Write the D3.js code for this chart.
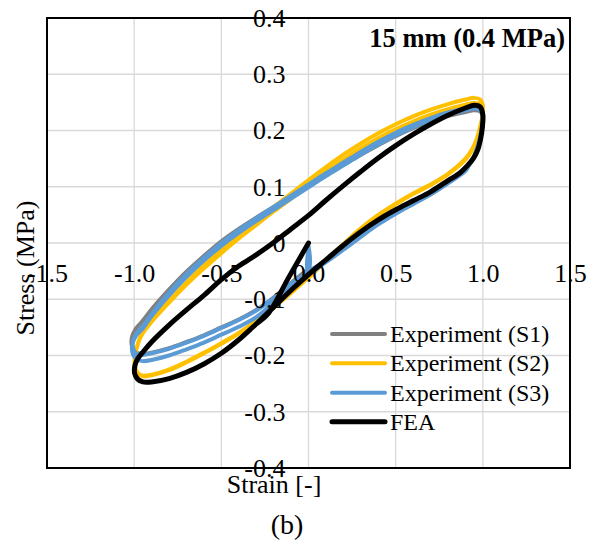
<!DOCTYPE html>
<html>
<head>
<meta charset="utf-8">
<script src="https://cdn.jsdelivr.net/npm/d3@7/dist/d3.min.js"></script>
<style>
  html, body { margin: 0; padding: 0; background: #fff; }
  svg { display: block; }
  text { font-family: "Liberation Serif", "Times New Roman", serif; fill: #000; }
</style>
</head>
<body>
<svg id="chart" width="595" height="550"></svg>
<script>
// Axis ticks
const xTicks = [-1.5, -1.0, -0.5, 0.0, 0.5, 1.0, 1.5];
const yTicks = [-0.4, -0.3, -0.2, -0.1, 0, 0.1, 0.2, 0.3, 0.4];

// Series names and colours
const seriesNames = ["Experiment (S1)", "Experiment (S2)", "Experiment (S3)", "FEA"];
const seriesColors = ["#808080", "#FFC000", "#5B9BD5", "#000000"];

// Hysteresis paths as [strain, stress (MPa)] pairs
const s1 = [
  [0, -0.046], [-0.1, -0.071], [-0.2, -0.097], [-0.3, -0.119], [-0.4, -0.136],
  [-0.5, -0.15], [-0.6, -0.164], [-0.7, -0.176], [-0.8, -0.187], [-0.9, -0.195],
  [-0.95, -0.197], [-0.99, -0.194], [-1.012, -0.184], [-1.013, -0.168], [-0.992, -0.153],
  [-0.95, -0.138], [-0.9, -0.118], [-0.8, -0.083], [-0.7, -0.051], [-0.6, -0.023],
  [-0.5, 0.003], [-0.4, 0.025], [-0.3, 0.045], [-0.2, 0.064], [-0.1, 0.083],
  [0, 0.102], [0.1, 0.121], [0.2, 0.139], [0.3, 0.157], [0.4, 0.174],
  [0.5, 0.19], [0.6, 0.204], [0.7, 0.216], [0.8, 0.226], [0.9, 0.233],
  [0.95, 0.236], [0.985, 0.234], [1.0, 0.224], [0.997, 0.207], [0.985, 0.188],
  [0.97, 0.17], [0.95, 0.153], [0.92, 0.138], [0.9, 0.129], [0.8, 0.107],
  [0.7, 0.087], [0.6, 0.07], [0.5, 0.053], [0.4, 0.034], [0.3, 0.012],
  [0.2, -0.011], [0.1, -0.033], [0, -0.051]
];

const s2 = [
  [0, -0.061], [-0.1, -0.088], [-0.2, -0.114], [-0.3, -0.139], [-0.4, -0.16],
  [-0.5, -0.178], [-0.6, -0.195], [-0.7, -0.211], [-0.8, -0.225], [-0.9, -0.234],
  [-0.95, -0.236], [-0.98, -0.231], [-0.997, -0.218], [-0.995, -0.2], [-0.975, -0.175],
  [-0.95, -0.158], [-0.9, -0.138], [-0.8, -0.103], [-0.7, -0.07], [-0.6, -0.04],
  [-0.5, -0.012], [-0.4, 0.015], [-0.3, 0.04], [-0.2, 0.064], [-0.1, 0.088],
  [0, 0.112], [0.1, 0.135], [0.2, 0.157], [0.3, 0.177], [0.4, 0.195],
  [0.5, 0.211], [0.6, 0.225], [0.7, 0.237], [0.8, 0.247], [0.9, 0.255],
  [0.95, 0.258], [0.985, 0.255], [1.0, 0.244], [0.997, 0.225], [0.985, 0.207],
  [0.965, 0.185], [0.935, 0.165], [0.9, 0.15], [0.8, 0.123], [0.7, 0.104],
  [0.6, 0.088], [0.5, 0.07], [0.4, 0.05], [0.3, 0.026], [0.2, -0.002],
  [0.1, -0.031], [0, -0.061],
  [-0.1, -0.089], [-0.2, -0.115], [-0.3, -0.14], [-0.4, -0.161], [-0.5, -0.179],
  [-0.6, -0.196], [-0.7, -0.212], [-0.8, -0.226], [-0.9, -0.235], [-0.95, -0.237],
  [-0.98, -0.232], [-0.997, -0.219], [-0.995, -0.201], [-0.975, -0.176],
  [-0.95, -0.16], [-0.9, -0.14], [-0.8, -0.106], [-0.7, -0.074], [-0.6, -0.045],
  [-0.5, -0.018], [-0.4, 0.008], [-0.3, 0.032], [-0.2, 0.056], [-0.1, 0.079],
  [0, 0.103], [0.1, 0.126], [0.2, 0.148], [0.3, 0.168], [0.4, 0.186],
  [0.5, 0.202], [0.6, 0.216], [0.7, 0.228], [0.8, 0.238], [0.9, 0.246],
  [0.95, 0.249], [0.985, 0.247], [1.0, 0.238], [0.997, 0.22], [0.985, 0.203],
  [0.965, 0.182], [0.935, 0.163], [0.9, 0.148], [0.8, 0.122], [0.7, 0.103],
  [0.6, 0.087], [0.5, 0.069], [0.4, 0.049], [0.3, 0.025], [0.2, -0.003],
  [0.1, -0.032], [0, -0.062]
];

const s3 = [
  [0, -0.005], [0, -0.048],
  [-0.1, -0.072], [-0.2, -0.098], [-0.3, -0.12], [-0.4, -0.137], [-0.5, -0.151],
  [-0.6, -0.165], [-0.7, -0.177], [-0.8, -0.188], [-0.9, -0.196], [-0.95, -0.199],
  [-0.985, -0.197], [-1.005, -0.188], [-1.007, -0.174], [-0.985, -0.16],
  [-0.95, -0.148], [-0.9, -0.126], [-0.8, -0.088], [-0.7, -0.055], [-0.6, -0.026],
  [-0.5, 0.0], [-0.4, 0.023], [-0.3, 0.044], [-0.2, 0.064], [-0.1, 0.084],
  [0, 0.104], [0.1, 0.124], [0.2, 0.143], [0.3, 0.162], [0.4, 0.18],
  [0.5, 0.196], [0.6, 0.21], [0.7, 0.222], [0.8, 0.232], [0.9, 0.239],
  [0.95, 0.242], [0.985, 0.239], [1.0, 0.228], [0.997, 0.21], [0.985, 0.19],
  [0.97, 0.172], [0.95, 0.155], [0.92, 0.14], [0.9, 0.13], [0.8, 0.108],
  [0.7, 0.088], [0.6, 0.071], [0.5, 0.054], [0.4, 0.035], [0.3, 0.013],
  [0.2, -0.01], [0.1, -0.032], [0, -0.05],
  [-0.1, -0.076], [-0.2, -0.106], [-0.3, -0.132], [-0.4, -0.149], [-0.5, -0.163],
  [-0.6, -0.177], [-0.7, -0.189], [-0.8, -0.2], [-0.9, -0.208], [-0.95, -0.21],
  [-0.985, -0.207], [-1.008, -0.197], [-1.012, -0.182], [-0.99, -0.165],
  [-0.95, -0.152], [-0.9, -0.13], [-0.8, -0.093], [-0.7, -0.06], [-0.6, -0.031],
  [-0.5, -0.005], [-0.4, 0.018], [-0.3, 0.039], [-0.2, 0.059], [-0.1, 0.079],
  [0, 0.099], [0.1, 0.119], [0.2, 0.138], [0.3, 0.157], [0.4, 0.175],
  [0.5, 0.191], [0.6, 0.206], [0.7, 0.218], [0.8, 0.228], [0.9, 0.236],
  [0.95, 0.239], [0.985, 0.236], [1.0, 0.225], [0.997, 0.207], [0.985, 0.188],
  [0.97, 0.17], [0.95, 0.153], [0.92, 0.138], [0.9, 0.128], [0.8, 0.106],
  [0.7, 0.086], [0.6, 0.069], [0.5, 0.052], [0.4, 0.033], [0.3, 0.011],
  [0.2, -0.012], [0.1, -0.034], [0, -0.052], [0, -0.01]
];

const fea = [
  [0, 0], [-0.115, -0.062], [-0.23, -0.125], [-0.3, -0.144], [-0.4, -0.172],
  [-0.5, -0.196], [-0.6, -0.215], [-0.7, -0.23], [-0.8, -0.241], [-0.9, -0.247],
  [-0.95, -0.247], [-0.98, -0.242], [-0.997, -0.232], [-0.995, -0.217], [-0.978, -0.205],
  [-0.95, -0.194], [-0.9, -0.176], [-0.8, -0.146], [-0.7, -0.119], [-0.6, -0.093],
  [-0.5, -0.065], [-0.4, -0.041], [-0.3, -0.021], [-0.2, 0.001], [-0.1, 0.025],
  [0, 0.049], [0.1, 0.076], [0.2, 0.102], [0.3, 0.127], [0.4, 0.151],
  [0.5, 0.173], [0.6, 0.193], [0.7, 0.211], [0.8, 0.227], [0.9, 0.24],
  [0.95, 0.245], [0.985, 0.242], [1.0, 0.228], [0.997, 0.205], [0.987, 0.185],
  [0.97, 0.165], [0.945, 0.15], [0.91, 0.137], [0.87, 0.125], [0.8, 0.111],
  [0.7, 0.091], [0.6, 0.075], [0.5, 0.059], [0.4, 0.041], [0.3, 0.02],
  [0.2, -0.004], [0.1, -0.03], [0, -0.056], [-0.1, -0.084], [-0.2, -0.114],
  [-0.3, -0.144], [-0.4, -0.172]
];

const seriesData = [s1, s2, s3, fea];
const seriesWidths = [4, 4, 4, 5];

const svg = d3.select("#chart");
const plotLeft = 47, plotRight = 570, plotTop = 18, plotBottom = 468;

const x = d3.scaleLinear().domain([-1.5, 1.5]).range([plotLeft, plotRight]);
const y = d3.scaleLinear().domain([-0.4, 0.4]).range([plotBottom, plotTop]);

// Gridlines
const grid = svg.append("g").attr("stroke", "#d9d9d9").attr("stroke-width", 1.3);
grid.selectAll("line.v").data(xTicks).join("line")
  .attr("class", "v")
  .attr("x1", d => x(d)).attr("x2", d => x(d))
  .attr("y1", plotTop).attr("y2", plotBottom);
grid.selectAll("line.h").data(yTicks).join("line")
  .attr("class", "h")
  .attr("x1", plotLeft).attr("x2", plotRight)
  .attr("y1", d => y(d)).attr("y2", d => y(d));

// Plot frame
svg.append("rect")
  .attr("x", plotLeft).attr("y", plotTop)
  .attr("width", plotRight - plotLeft).attr("height", plotBottom - plotTop)
  .attr("fill", "none").attr("stroke", "#000").attr("stroke-width", 2);

// Curves
const line = d3.line()
  .x(d => x(d[0]))
  .y(d => y(d[1]))
  .curve(d3.curveCatmullRom.alpha(0.5));

svg.append("g").selectAll("path").data(seriesData).join("path")
  .attr("d", line)
  .attr("fill", "none")
  .attr("stroke", (d, i) => seriesColors[i])
  .attr("stroke-width", (d, i) => seriesWidths[i])
  .attr("stroke-linejoin", "round")
  .attr("stroke-linecap", "round");

// Tick labels, crossing at the origin
const xAxis = svg.append("g")
  .attr("transform", `translate(0,${y(0)})`)
  .call(d3.axisBottom(x).tickValues(xTicks).tickSize(0).tickPadding(21)
    .tickFormat(d => d.toFixed(1)));
const yAxis = svg.append("g")
  .attr("transform", `translate(${x(0)},0)`)
  .call(d3.axisLeft(y).tickValues(yTicks).tickSize(0).tickPadding(23)
    .tickFormat(d => d === 0 ? "0" : d.toFixed(1)));
[xAxis, yAxis].forEach(g => {
  g.select(".domain").remove();
  g.selectAll("text")
    .attr("font-family", "'Liberation Serif', 'Times New Roman', serif")
    .attr("font-size", 26)
    .attr("fill", "#000");
});

// Panel title
svg.append("text")
  .attr("x", 565).attr("y", 47)
  .attr("text-anchor", "end")
  .attr("font-size", 26.5)
  .attr("font-weight", "bold")
  .text("15 mm (0.4 MPa)");

// Axis titles
svg.append("text")
  .attr("transform", "translate(34,268) rotate(-90)")
  .attr("text-anchor", "middle")
  .attr("font-size", 26)
  .text("Stress (MPa)");
svg.append("text")
  .attr("x", 274).attr("y", 493)
  .attr("text-anchor", "middle")
  .attr("font-size", 26)
  .text("Strain [-]");
svg.append("text")
  .attr("x", 287).attr("y", 534)
  .attr("text-anchor", "middle")
  .attr("font-size", 28)
  .text("(b)");

// Legend
const legendRows = [334, 363.3, 392.7, 421.7];
const legend = svg.append("g");
seriesNames.forEach((name, i) => {
  legend.append("line")
    .attr("x1", 332).attr("x2", 385)
    .attr("y1", legendRows[i]).attr("y2", legendRows[i])
    .attr("stroke", seriesColors[i])
    .attr("stroke-width", seriesWidths[i])
    .attr("stroke-linecap", "round");
  legend.append("text")
    .attr("x", 390).attr("y", legendRows[i])
    .attr("dy", "0.33em")
    .attr("font-size", 24)
    .text(name);
});
</script>
</body>
</html>
